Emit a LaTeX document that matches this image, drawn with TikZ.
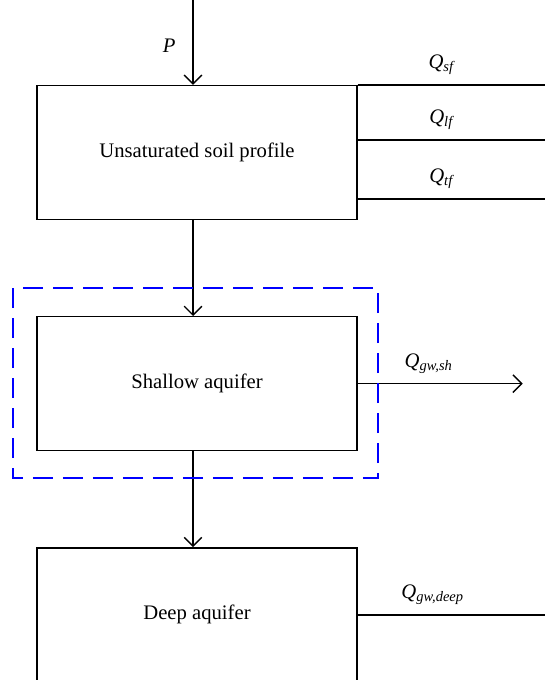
\documentclass[tikz,border=0pt]{standalone}
\usepackage{fontspec}
\setmainfont{Liberation Serif}
\usepackage{tikz}
\usetikzlibrary{arrows.meta, positioning, calc}
\tikzstyle{layer} = [rectangle, minimum width=8cm, minimum height=3.35cm, text centered, draw=black, line width=1pt]
\tikzstyle{arrow} = [line width=1pt,-{Straight Barb[length=2.2mm, width=4.4mm]}]
\tikzstyle{flow} = [line width=1pt]
\tikzstyle{zone} = [draw=blue, line width=1.3pt, dash pattern=on 5mm off 2.5mm]
\newcommand{\qflux}[2]{\textit{#1}\textsubscript{\textit{#2}}}

\begin{document}
\begin{tikzpicture}[node distance=5.78cm, font=\fontsize{14.7}{17}\selectfont]
\useasboundingbox (0,0) rectangle (13.625,-17);
\clip (0,0) rectangle (13.625,-17);

% Main blocks
\node (unsat) [layer] at (4.925,-3.8125) {Unsaturated soil profile};
\node (shallow) [layer, below of=unsat] {Shallow aquifer};
\node (deep) [layer, below of=shallow] {Deep aquifer};

% Helper points
\coordinate (edge) at (13.625,0);
\coordinate (rain) at ($(unsat.north)+(-0.1,2.15)$);
\coordinate (lfout) at ($(unsat.north east)+(0,-1.375)$);
\coordinate (tfout) at ($(unsat.north east)+(0,-2.85)$);
\coordinate (shout) at ($(shallow.east)+(4.125,0)$);

% Arrows
\draw [arrow] (rain) -- node[pos=0.55, left=0.3cm] {\textit{P}} (rain |- unsat.north);
\draw [arrow] ($(unsat.south)+(-0.1,0)$) -- ($(shallow.north)+(-0.1,0)$);
\draw [arrow] ($(shallow.south)+(-0.1,0)$) -- ($(deep.north)+(-0.1,0)$);
\draw [arrow] (shallow.east) -- node[pos=0.43, above=1.2mm] {\qflux{Q}{gw,sh}} (shout);

% Outflows
\draw [flow] (unsat.north east) -- node[pos=0.45, above=1.2mm] {\qflux{Q}{sf}} (unsat.north east -| edge);
\draw [flow] (lfout) -- node[pos=0.45, above=1.2mm] {\qflux{Q}{lf}} (lfout -| edge);
\draw [flow] (tfout) -- node[pos=0.45, above=1.2mm] {\qflux{Q}{tf}} (tfout -| edge);
\draw [flow] (deep.east) -- node[pos=0.40, above=1.2mm] {\qflux{Q}{gw,deep}} (deep.east -| edge);

% Shallow zone
\draw [zone] ($(shallow.north west)+(-0.575,0.7)$) rectangle ($(shallow.south east)+(0.5,-0.675)$);

\end{tikzpicture}
\end{document}
